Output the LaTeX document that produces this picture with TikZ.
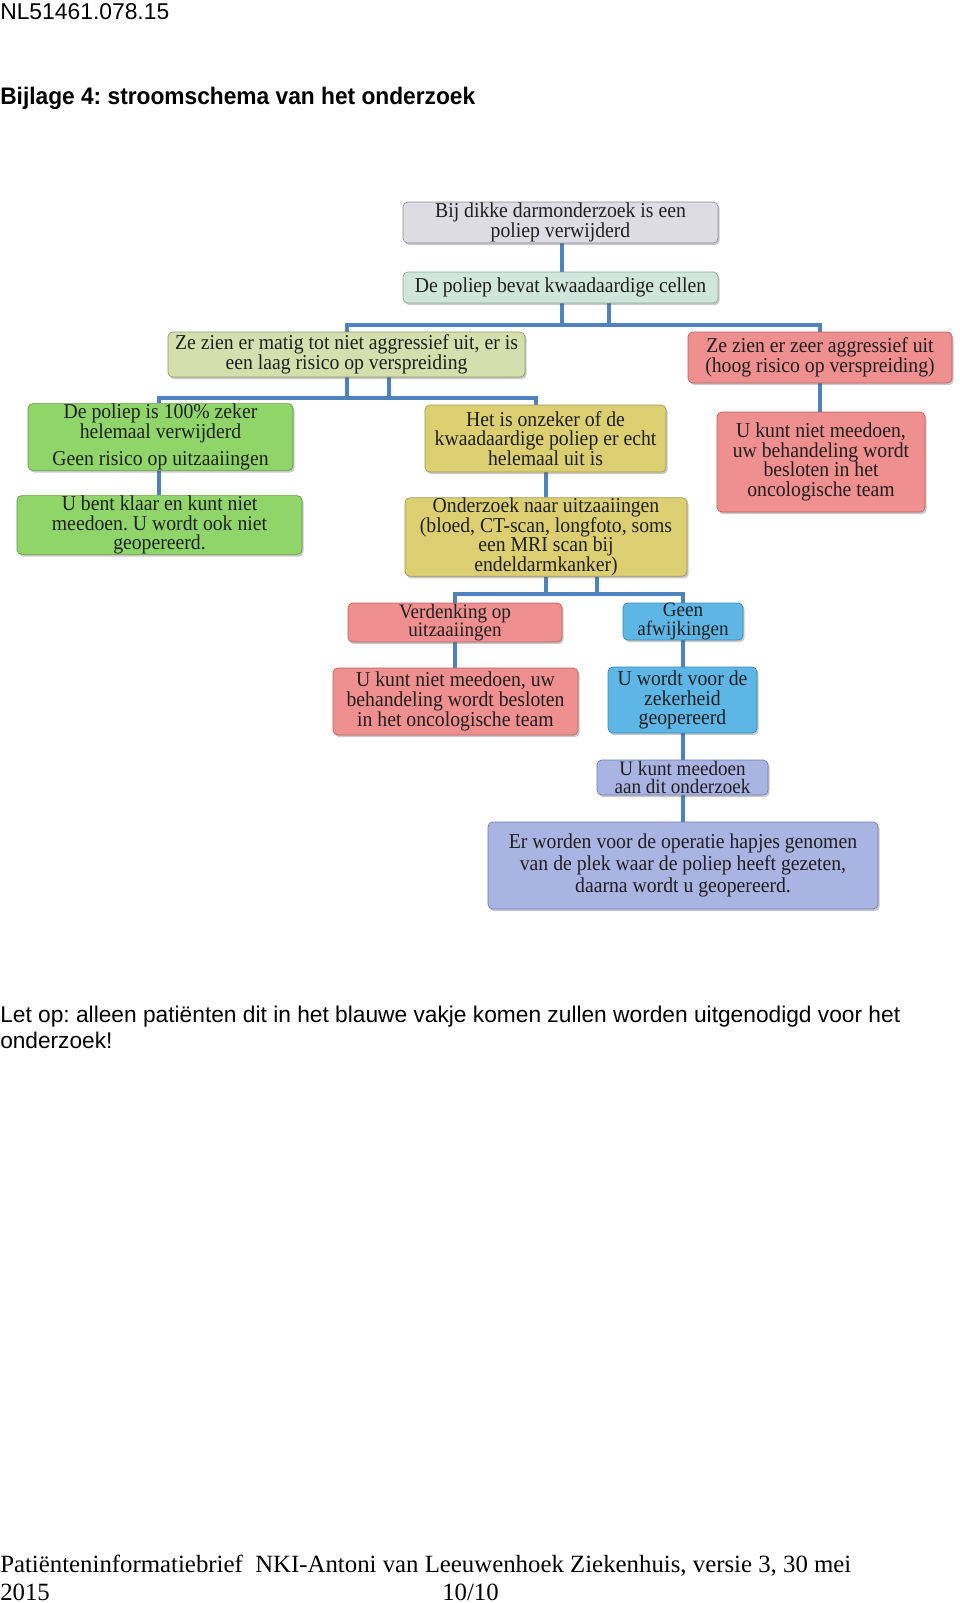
\documentclass[tikz,border=0pt]{standalone}
\usepackage{graphicx}
\usepackage{fontspec}
\setmainfont{Liberation Serif}
\newfontfamily\arialfont{Liberation Sans}
\newfontfamily\boxfont{Liberation Serif}[FakeStretch=0.93]
\usetikzlibrary{shadows,backgrounds}
\frenchspacing
\definecolor{linkc}{RGB}{79,129,189}
\definecolor{grayF}{RGB}{220,220,226}\definecolor{grayD}{RGB}{142,142,150}
\definecolor{mintF}{RGB}{208,230,218}\definecolor{mintD}{RGB}{140,168,152}
\definecolor{oliveF}{RGB}{213,223,174}\definecolor{oliveD}{RGB}{140,154,98}
\definecolor{redF}{RGB}{239,143,143}\definecolor{redD}{RGB}{182,96,96}
\definecolor{greenF}{RGB}{144,213,106}\definecolor{greenD}{RGB}{91,154,63}
\definecolor{yelF}{RGB}{220,207,114}\definecolor{yelD}{RGB}{160,150,80}
\definecolor{blueF}{RGB}{93,182,229}\definecolor{blueD}{RGB}{59,134,179}
\definecolor{lavF}{RGB}{170,180,226}\definecolor{lavD}{RGB}{111,123,179}
\begin{document}
\begin{tikzpicture}[x=0.75pt,y=-0.75pt,
  box/.style={draw, rounded corners=3.5pt, line width=0.5pt, align=center, inner sep=0pt,
    font=\boxfont\fontsize{15.9}{14.8}\selectfont, text=black!88,
    drop shadow={shadow xshift=1.2pt, shadow yshift=-1.6pt, opacity=0.3, fill=black!70}},
  tight/.style={font=\boxfont\fontsize{15.4}{14}\selectfont},
  gray box/.style={box, fill=grayF, draw=grayD},
  mint box/.style={box, fill=mintF, draw=mintD},
  olive box/.style={box, fill=oliveF, draw=oliveD},
  red box/.style={box, fill=redF, draw=redD},
  green box/.style={box, fill=greenF, draw=greenD},
  yel box/.style={box, fill=yelF, draw=yelD},
  blue box/.style={box, fill=blueF, draw=blueD},
  lav box/.style={box, fill=lavF, draw=lavD},
  link/.style={draw=linkc, line width=3pt},
  plain/.style={anchor=base west, inner sep=0pt}]
\useasboundingbox (0,0) rectangle (960,1603);

% page texts
\node[plain, font=\arialfont] (hdr) at (0,19) {\resizebox{126.75pt}{!}{NL51461.078.15}};
\node[plain, font=\arialfont\bfseries] (title) at (0,104) {\resizebox{356.25pt}{13pt}{Bijlage 4: stroomschema van het onderzoek}};
\node[plain, font=\arialfont] (note1) at (0,1022) {\resizebox{675pt}{!}{Let op: alleen patiënten dit in het blauwe vakje komen zullen worden uitgenodigd voor het}};
\node[plain, font=\arialfont\fontsize{17}{20}\selectfont] (note2) at (0,1048) {onderzoek!};
\node[plain] (foot1) at (0,1572) {\resizebox{638.25pt}{!}{Patiënteninformatiebrief\ \ NKI-Antoni van Leeuwenhoek Ziekenhuis, versie 3, 30 mei}};
\node[plain, font=\fontsize{18.6}{20}\selectfont] (foot2) at (0,1600) {2015};
\node[plain, font=\fontsize{18.6}{20}\selectfont] (foot3) at (442,1600) {10/10};

% boxes
\node[gray box, minimum width=236.25pt, minimum height=30.75pt] (b1) at (560.5,222.5) {Bij dikke darmonderzoek is een\\poliep verwijderd};
\node[mint box, minimum width=236.25pt, minimum height=23.25pt] (b2) at (560.5,287.5) {De poliep bevat kwaadaardige cellen};
\node[olive box, minimum width=267.75pt, minimum height=33.75pt] (b3) at (346.5,354.5) {Ze zien er matig tot niet aggressief uit, er is\\een laag risico op verspreiding};
\node[red box, minimum width=198pt, minimum height=38.25pt] (b4) at (820,357.5) {Ze zien er zeer aggressief uit\\(hoog risico op verspreiding)};
\node[green box, minimum width=198.75pt, minimum height=48pt] (b5) at (160.5,437) {De poliep is 100\% zeker\\helemaal verwijderd\\[6pt]Geen risico op uitzaaiingen};
\node[green box, minimum width=213.75pt, minimum height=43.5pt] (b6) at (159.5,525) {U bent klaar en kunt niet\\meedoen. U wordt ook niet\\geopereerd.};
\node[yel box, minimum width=180.75pt, minimum height=50.25pt] (b7) at (545.5,438.5) {Het is onzeker of de\\kwaadaardige poliep er echt\\helemaal uit is};
\node[yel box, minimum width=211.5pt, minimum height=57pt] (b8) at (546,537) {Onderzoek naar uitzaaiingen\\(bloed, CT-scan, longfoto, soms\\een MRI scan bij\\endeldarmkanker)};
\node[red box, minimum width=156pt, minimum height=75pt] (b9) at (821,462) {U kunt niet meedoen,\\uw behandeling wordt\\besloten in het\\oncologische team};
\node[red box, tight, minimum width=160.5pt, minimum height=29.25pt] (b10) at (455,622.5) {Verdenking op\\uitzaaiingen};
\node[blue box, tight, minimum width=90pt, minimum height=27.75pt] (b11) at (683,621.5) {Geen\\afwijkingen};
\node[red box, minimum width=183.75pt, minimum height=50.25pt] (b12) at (455.5,701.5) {U kunt niet meedoen, uw\\behandeling wordt besloten\\in het oncologische team};
\node[blue box, minimum width=111.75pt, minimum height=49.5pt] (b13) at (682.5,700) {U wordt voor de\\zekerheid\\geopereerd};
\node[lav box, tight, minimum width=128.25pt, minimum height=26.25pt] (b14) at (682.5,777.5) {U kunt meedoen\\aan dit onderzoek};
\node[lav box, font=\boxfont\fontsize{15.9}{16.3}\selectfont, minimum width=292.5pt, minimum height=65.25pt] (b15) at (683,865.5) {Er worden voor de operatie hapjes genomen\\van de plek waar de poliep heeft gezeten,\\daarna wordt u geopereerd.};

% connector levels
\coordinate (j1) at (0,325);
\coordinate (j2) at (0,398);
\coordinate (j3) at (0,594);
\coordinate (t7) at (536,398);

\begin{pgfonlayer}{background}
\draw[link] ([xshift=1pt]b1.south) -- ([xshift=1pt]b2.north);
\draw[link] ([xshift=1pt]b2.south) |- (b3.north |- j1) -- (b3.north);
\draw[link] ([xshift=1pt]b2.south) |- (b4.north |- j1) -- (b4.north);
\draw[link] ([xshift=36pt]b2.south) -- ([xshift=36pt]b2.south |- j1);
\draw[link] (b3.south) |- ([xshift=-1pt]b5.north |- j2) -- ([xshift=-1pt]b5.north);
\draw[link] (b3.south) |- (t7) -- (t7 |- b7.north);
\draw[link] ([xshift=31.5pt]b3.south) -- ([xshift=31.5pt]b3.south |- j2);
\draw[link] ([xshift=-1pt]b5.south) -- ([xshift=-1pt]b5.south |- b6.north);
\draw[link] (b7.south) -- (b7.south |- b8.north);
\draw[link] (b4.south) -- (b4.south |- b9.north);
\draw[link] (b8.south) |- (b10.north |- j3) -- (b10.north);
\draw[link] (b8.south) |- (b11.north |- j3) -- (b11.north);
\draw[link] ([xshift=38.25pt]b8.south) -- ([xshift=38.25pt]b8.south |- j3);
\draw[link] (b10.south) -- (b10.south |- b12.north);
\draw[link] (b11.south) -- (b11.south |- b13.north);
\draw[link] (b13.south) -- (b13.south |- b14.north);
\draw[link] (b14.south) -- (b14.south |- b15.north);
\end{pgfonlayer}
\end{tikzpicture}
\end{document}
